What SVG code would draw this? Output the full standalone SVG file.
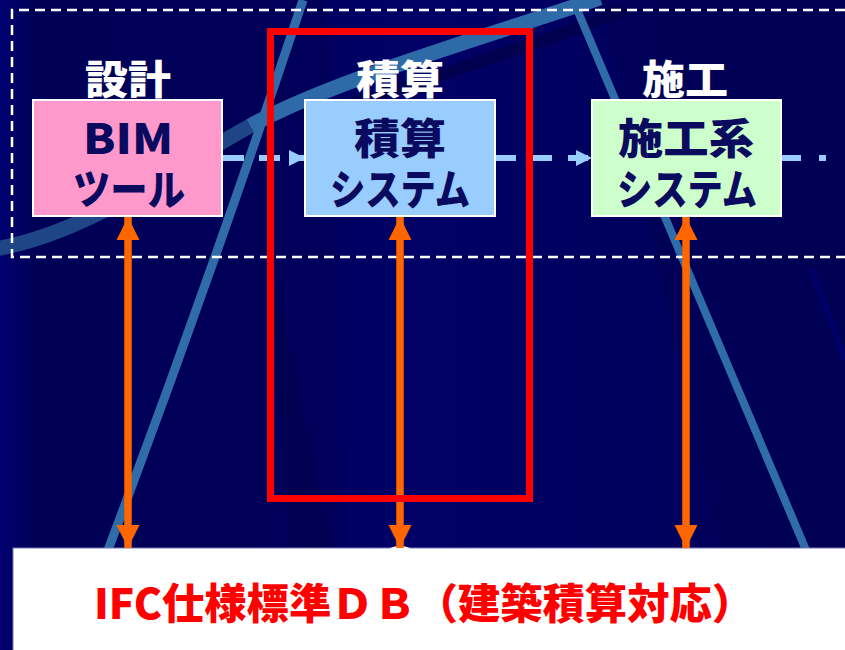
<svg xmlns="http://www.w3.org/2000/svg" width="845" height="650" viewBox="0 0 845 650">
  <defs>
    <marker id="blueHead" viewBox="0 0 10 10" refX="10" refY="5" markerWidth="16" markerHeight="16" markerUnits="userSpaceOnUse" orient="auto">
      <path d="M0,0 L10,5 L0,10 Z" fill="#99CCFF"/>
    </marker>
    <marker id="orangeHead" viewBox="0 0 10 10" refX="10" refY="5" markerWidth="23" markerHeight="24" markerUnits="userSpaceOnUse" orient="auto-start-reverse">
      <path d="M0,0 L10,5 L0,10 Z" fill="#FF6600"/>
    </marker>
    <linearGradient id="bg" x1="0" y1="0" x2="1" y2="0">
      <stop offset="0" stop-color="#000070"/>
      <stop offset="0.04" stop-color="#000058"/>
      <stop offset="0.5" stop-color="#000066"/>
      <stop offset="1" stop-color="#000056"/>
    </linearGradient>
  </defs>
  <style>
    .box { stroke: #FFFFFF; stroke-width: 2; }
    .label { font-family: "Noto Sans CJK JP", sans-serif; font-weight: 900; font-size: 40px; fill: #FFFFFF; text-anchor: middle; }
    .boxtext { font-family: "Noto Sans CJK JP", sans-serif; font-weight: 900; font-size: 42px; fill: #0A0A5E; text-anchor: middle; }
    .flow { stroke: #99CCFF; stroke-width: 6; fill: none; }
    .link { stroke: #FF6600; stroke-width: 7.5; fill: none; }
    .streak { stroke: #2F6CA8; fill: none; }
  </style>

  <!-- background -->
  <rect x="0" y="0" width="845" height="650" fill="url(#bg)"/>
  <polygon points="30,0 330,0 340,548 30,548" fill="#000055" opacity="0.6"/>
  <polygon points="270,260 330,548 290,548" fill="#00004C" opacity="0.7"/>
  <polygon points="600,0 845,0 845,548 720,548" fill="#000052" opacity="0.5"/>
  <path d="M336,108 S 466,70 626,10" stroke="#00004A" stroke-width="12" fill="none" opacity="0.8"/>
  <path d="M-5,249 C 90,232 170,170 250,126" stroke="#1E4686" stroke-width="15" fill="none"/>
  <path d="M250,126 C 330,82 460,45 600,-2" stroke="#2E6AA8" stroke-width="15" fill="none"/>
  <path d="M303,0 Q 210,280 108,550" class="streak" stroke-width="9"/>
  <line class="streak" x1="573" y1="0" x2="806" y2="550" stroke-width="8"/>
  <line x1="812" y1="270" x2="845" y2="360" stroke="#00007A" stroke-width="6" opacity="0.6"/>

  <!-- dashed frame -->
  <path d="M845,10 H12 V257 H845" fill="none" stroke="#FFFFFF" stroke-width="2.5" stroke-dasharray="10 6"/>

  <!-- bottom DB panel -->
  <g id="db">
    <rect x="13" y="548" width="840" height="110" fill="#FFFFFF" stroke="#7777BB" stroke-width="1"/>
    <ellipse cx="400" cy="549" rx="10" ry="3" fill="#FFFFFF"/>
    <text x="94" y="619" font-family="'Noto Sans CJK JP', sans-serif" font-weight="900" font-size="42" fill="#FF0000" textLength="660" lengthAdjust="spacingAndGlyphs">IFC仕様標準ＤＢ（建築積算対応）</text>
  </g>

  <!-- connectors -->
  <g id="connectors">
    <line class="flow" x1="223" y1="158" x2="305" y2="158" stroke-dasharray="21 15" marker-end="url(#blueHead)"/>
    <line class="flow" x1="496" y1="158" x2="592" y2="158" stroke-dasharray="20 16" marker-end="url(#blueHead)"/>
    <line class="flow" x1="782" y1="158" x2="826" y2="158" stroke-dasharray="19 18"/>
    <line class="link" x1="128" y1="217" x2="128" y2="548" marker-start="url(#orangeHead)" marker-end="url(#orangeHead)"/>
    <line class="link" x1="400" y1="217" x2="400" y2="548" marker-start="url(#orangeHead)" marker-end="url(#orangeHead)"/>
    <line class="link" x1="686" y1="217" x2="686" y2="548" marker-start="url(#orangeHead)" marker-end="url(#orangeHead)"/>
  </g>

  <!-- nodes -->
  <g id="design">
    <text class="label" x="128" y="94" textLength="86" lengthAdjust="spacingAndGlyphs">設計</text>
    <rect class="box" x="33" y="100" width="189" height="116" fill="#FF99CC"/>
    <text class="boxtext" x="128" y="154" textLength="90" lengthAdjust="spacingAndGlyphs">BIM</text>
    <text class="boxtext" x="129" y="205" textLength="112" lengthAdjust="spacingAndGlyphs">ツール</text>
  </g>
  <g id="estimate">
    <text class="label" x="400" y="94" textLength="88" lengthAdjust="spacingAndGlyphs">積算</text>
    <rect class="box" x="305" y="100" width="190" height="116" fill="#99CCFF"/>
    <text class="boxtext" x="400" y="154" textLength="92" lengthAdjust="spacingAndGlyphs">積算</text>
    <text class="boxtext" x="400" y="205" textLength="140" lengthAdjust="spacingAndGlyphs">システム</text>
  </g>
  <g id="construction">
    <text class="label" x="685" y="94" textLength="86" lengthAdjust="spacingAndGlyphs">施工</text>
    <rect class="box" x="592" y="100" width="189" height="116" fill="#CCFFCC"/>
    <text class="boxtext" x="686" y="154" textLength="136" lengthAdjust="spacingAndGlyphs">施工系</text>
    <text class="boxtext" x="687" y="205" textLength="140" lengthAdjust="spacingAndGlyphs">システム</text>
  </g>

  <!-- highlight frame -->
  <g id="highlight">
    <rect x="270.5" y="31.5" width="259" height="467" fill="none" stroke="#FF0000" stroke-width="7"/>
  </g>
</svg>
